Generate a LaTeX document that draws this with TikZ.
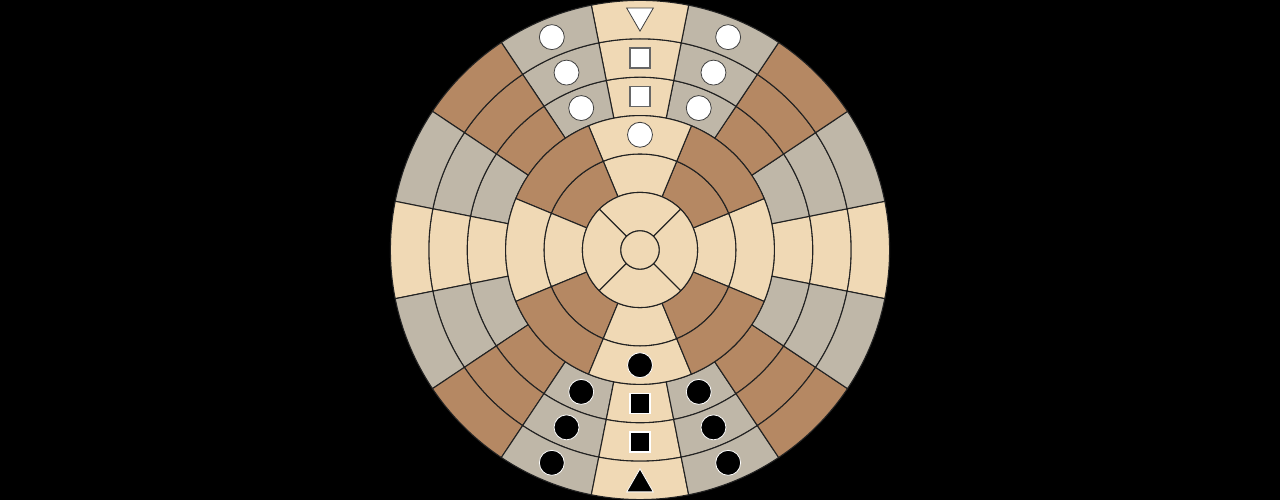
\documentclass[tikz,border=0pt]{standalone}
\usepackage{xcolor}
\usepackage{tikz}
\usetikzlibrary{shapes.geometric}
\definecolor{lightsq}{HTML}{F0D9B5}
\definecolor{darksq}{HTML}{B58863}
\definecolor{graysq}{HTML}{BFB7A8}
\definecolor{gridline}{HTML}{222222}
% one cell of the board: inner radius, outer radius, start angle, end angle, colour
\newcommand{\cell}[5]{%
  \draw[fill=#5, draw=gridline, line width=0.8pt] (#3:#1) arc[start angle=#3, end angle=#4, radius=#1]
    -- (#4:#2) arc[start angle=#4, end angle=#3, radius=#2] -- cycle;}
\tikzset{
  whitedisc/.style={circle, draw=black!75, fill=white, line width=0.6pt, minimum size=0.65cm, inner sep=0pt},
  blackdisc/.style={circle, draw=white, fill=black, line width=0.6pt, minimum size=0.65cm, inner sep=0pt},
  whitebox/.style={rectangle, draw=black!60, fill=white, line width=0.9pt, minimum size=0.52cm, inner sep=0pt},
  blackbox/.style={rectangle, draw=white, fill=black, line width=0.9pt, minimum size=0.52cm, inner sep=0pt},
  whitecone/.style={regular polygon, regular polygon sides=3, shape border rotate=180, draw=black!75, fill=white, line width=0.6pt, minimum size=0.8cm, inner sep=0pt},
  blackcone/.style={regular polygon, regular polygon sides=3, draw=white, fill=black, line width=0.6pt, minimum size=0.8cm, inner sep=0pt}
}

\begin{document}
\begin{tikzpicture}
  \useasboundingbox (-16.667,-6.51) rectangle (16.667,6.51);
  \fill[black] (-16.667,-6.51) rectangle (16.667,6.51);
  % outer three rings, 16 cells each
  \foreach \r/\R in {3.5/4.5,4.5/5.5,5.5/6.5} {
    \foreach \a/\b/\c in {-11.25/11.25/lightsq, 11.25/33.75/graysq, 33.75/56.25/darksq, 56.25/78.75/graysq,
                          78.75/101.25/lightsq, 101.25/123.75/graysq, 123.75/146.25/darksq, 146.25/168.75/graysq,
                          168.75/191.25/lightsq, 191.25/213.75/graysq, 213.75/236.25/darksq, 236.25/258.75/graysq,
                          258.75/281.25/lightsq, 281.25/303.75/graysq, 303.75/326.25/darksq, 326.25/348.75/graysq} {
      \cell{\r}{\R}{\a}{\b}{\c}
    }
  }
  % middle two rings, 8 cells each
  \foreach \r/\R in {1.5/2.5,2.5/3.5} {
    \foreach \a/\b/\c in {-22.5/22.5/lightsq, 22.5/67.5/darksq, 67.5/112.5/lightsq, 112.5/157.5/darksq,
                          157.5/202.5/lightsq, 202.5/247.5/darksq, 247.5/292.5/lightsq, 292.5/337.5/darksq} {
      \cell{\r}{\R}{\a}{\b}{\c}
    }
  }
  % inner ring and centre
  \foreach \a in {45,135,225,315} {
    \cell{0.5}{1.5}{\a}{\a+90}{lightsq}
  }
  \draw[fill=lightsq, draw=gridline, line width=0.8pt] (0,0) circle[radius=0.5];

  % white side
  \node[whitedisc] (wd0) at (90:3) {};
  \node[whitebox] (wb1) at (90:4) {};
  \node[whitebox] (wb2) at (90:5) {};
  \node[whitecone] (wk) at (90:6.1) {};
  \foreach \i in {1,2,3} {
    \node[whitedisc] (wl\i) at (112.5:{3+\i}) {};
    \node[whitedisc] (wr\i) at (67.5:{3+\i}) {};
  }
  % black side
  \node[blackdisc] (bd0) at (270:3) {};
  \node[blackbox] (bb1) at (270:4) {};
  \node[blackbox] (bb2) at (270:5) {};
  \node[blackcone] (bk) at (270:6.1) {};
  \foreach \i in {1,2,3} {
    \node[blackdisc] (bl\i) at (247.5:{3+\i}) {};
    \node[blackdisc] (br\i) at (292.5:{3+\i}) {};
  }
\end{tikzpicture}
\end{document}
